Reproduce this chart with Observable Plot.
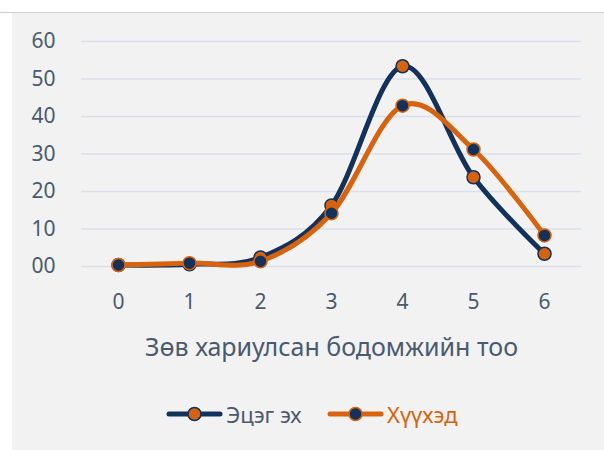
<!DOCTYPE html>
<html>
<head>
<meta charset="utf-8">
<script src="https://cdn.jsdelivr.net/npm/d3@7"></script>
<script src="https://cdn.jsdelivr.net/npm/@observablehq/plot@0.6"></script>
<style>
  html, body { margin: 0; padding: 0; background: #ffffff; }
  body { width: 604px; height: 450px; position: relative; overflow: hidden; font-family: "Noto Sans", sans-serif; }
  #topline { position: absolute; left: 0; top: 12px; width: 604px; height: 1px; background: #cfcfcf; }
  #panel { position: absolute; left: 12px; top: 13px; width: 592px; height: 437px; background: #f2f2f2; }
  #legend { position: relative; width: 592px; height: 67px; }
  .item { position: absolute; top: 17px; display: flex; align-items: center; font-size: 22px; line-height: 28px; }
  .item svg { display: block; margin-right: 3px; }
</style>
</head>
<body>
<div id="topline"></div>
<div id="panel">
  <div id="chart"></div>
  <div id="legend"></div>
</div>
<script>
// ---- data ----
const xValues = [0, 1, 2, 3, 4, 5, 6];
const parentsValues = [0.4, 0.6, 2.4, 16.3, 53.4, 23.8, 3.4];   // Эцэг эх
const childrenValues = [0.4, 0.9, 1.4, 14.2, 42.9, 31.2, 8.3];  // Хүүхэд
const yTicks = [0, 10, 20, 30, 40, 50, 60];
const seriesNames = ["Эцэг эх", "Хүүхэд"];
const xTitle = "Зөв хариулсан бодомжийн тоо";

const navy = "#12325c";
const orange = "#d9620c";
const textColor = "#495a70";

const parentsRows = xValues.map((x, i) => ({x, y: parentsValues[i], s: seriesNames[0]}));
const childrenRows = xValues.map((x, i) => ({x, y: childrenValues[i], s: seriesNames[1]}));

const chart = Plot.plot({
  width: 592,
  height: 370,
  marginLeft: 69,
  marginRight: 23,
  marginTop: 28,
  marginBottom: 117,
  style: {background: "transparent", fontFamily: "Noto Sans", color: textColor, overflow: "visible"},
  x: {type: "point", domain: xValues, padding: 0.5},
  y: {domain: [0, 60]},
  marks: [
    Plot.ruleY(yTicks, {stroke: "#d9e0ea", strokeWidth: 1.5}),
    Plot.axisY({ticks: yTicks, tickSize: 0, tickPadding: 26, tickFormat: d3.format("02d"), fontSize: 21, label: null}),
    Plot.axisX({tickSize: 0, tickPadding: 28, fontSize: 21, label: null}),
    Plot.text([xTitle], {text: d => d, frameAnchor: "bottom", dy: 81, fontSize: 25, lineAnchor: "middle", fill: textColor}),
    Plot.line(parentsRows, {x: "x", y: "y", stroke: navy, strokeWidth: 5, curve: "cardinal", tension: 0, strokeLinecap: "round"}),
    Plot.dot(parentsRows, {x: "x", y: "y", r: 6.5, fill: orange, stroke: navy, strokeWidth: 1.5}),
    Plot.line(childrenRows, {x: "x", y: "y", stroke: orange, strokeWidth: 5, curve: "cardinal", tension: 0, strokeLinecap: "round"}),
    Plot.dot(childrenRows, {x: "x", y: "y", r: 6.5, fill: navy, stroke: orange, strokeWidth: 1.5})
  ]
});
document.getElementById("chart").appendChild(chart);

// ---- legend ----
const legend = document.getElementById("legend");
const legendItems = [
  {name: seriesNames[0], line: navy, fill: orange, text: textColor, left: 154},
  {name: seriesNames[1], line: orange, fill: navy, text: orange, left: 315}
];
for (const it of legendItems) {
  const div = document.createElement("div");
  div.className = "item";
  div.style.left = it.left + "px";
  div.innerHTML = `<svg width="57" height="16"><line x1="3" x2="54" y1="8" y2="8" stroke="${it.line}" stroke-width="5" stroke-linecap="round"/><circle cx="28.5" cy="8" r="6.5" fill="${it.fill}" stroke="${it.line}" stroke-width="1.5"/></svg><span style="color:${it.text}">${it.name}</span>`;
  legend.appendChild(div);
}
</script>
</body>
</html>
